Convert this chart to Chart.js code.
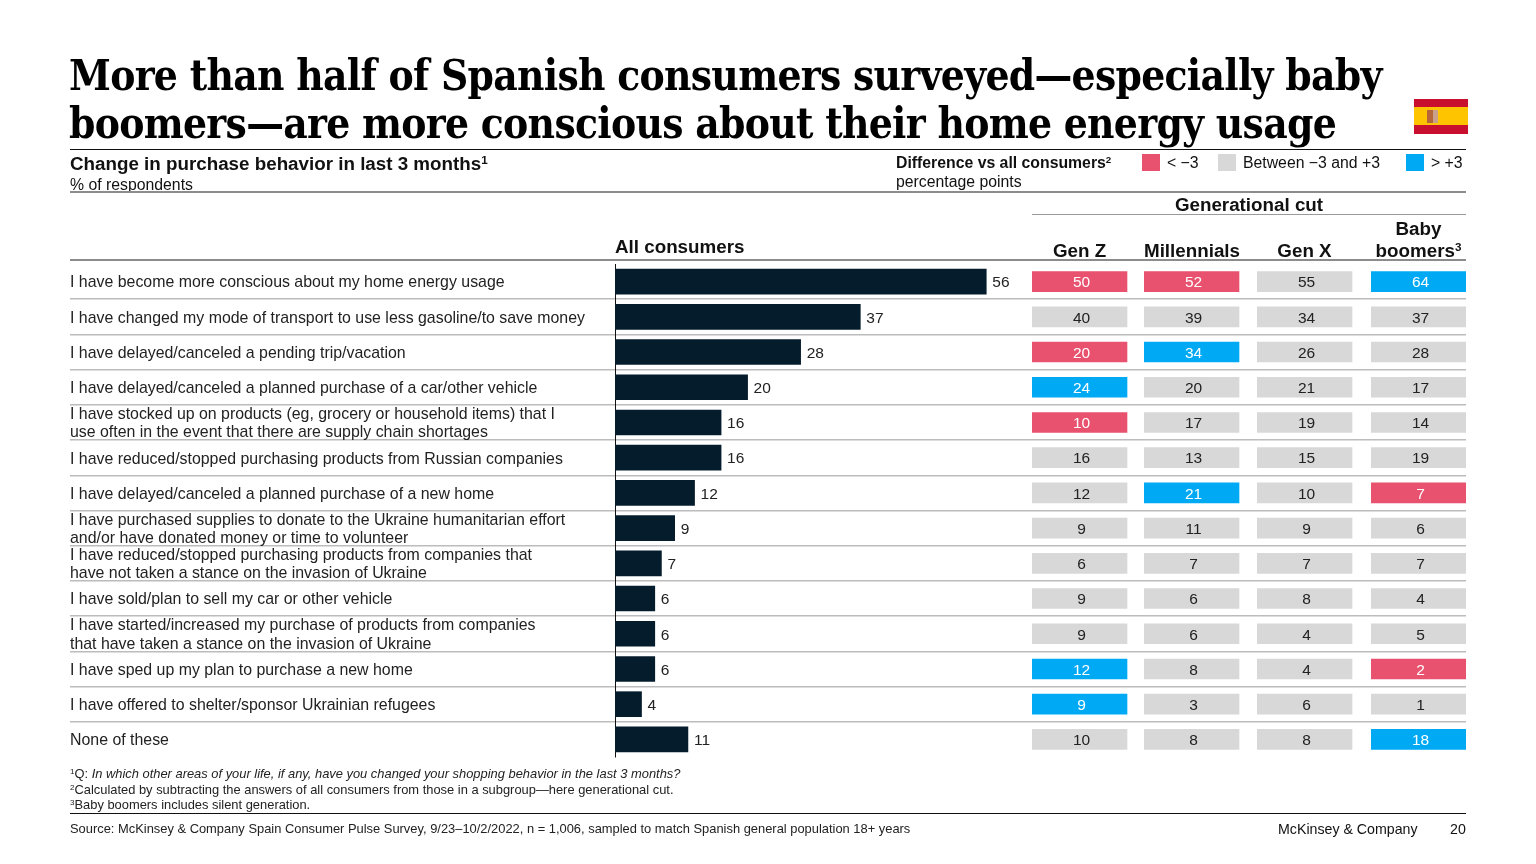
<!DOCTYPE html>
<html>
<head>
<meta charset="utf-8">
<script src="https://cdn.jsdelivr.net/npm/chart.js@4"></script>
<style>
  html,body { margin:0; padding:0; background:#fff; width:1536px; height:864px; overflow:hidden; }
  body { font-family:"Liberation Sans",Arial,sans-serif; color:#111; position:relative; }
  canvas { position:absolute; left:0; top:0; }
  .t { position:absolute; white-space:nowrap; }
  .rule { position:absolute; }
  .title { left:69px; font-family:"DejaVu Serif Condensed","DejaVu Serif",serif; font-stretch:condensed; font-weight:700; font-size:42px; letter-spacing:-.7px; line-height:48px; color:#000; }
  .b { font-weight:700; }
  sup { font-size:.62em; line-height:0; vertical-align:baseline; position:relative; top:-.5em; }
  .hd { font-weight:700; font-size:18.8px; line-height:22px; text-align:center; }
  .sub { font-size:15.8px; line-height:18px; }
  .note { left:70px; font-size:12.9px; line-height:15px; color:#222; }
  .sw { position:absolute; top:154px; width:18px; height:17px; }
</style>
</head>
<body>
<canvas id="chart" width="1466" height="864"></canvas>

<div class="t title" style="top:52px">More than half of Spanish consumers surveyed—especially baby</div>
<div class="t title" style="top:100px">boomers—are more conscious about their home energy usage</div>

<div style="position:absolute;left:1414px;top:99px;width:54px;height:35px;background:linear-gradient(#c8102e 0 23%,#ffc400 23% 75%,#c8102e 75%)">
  <div style="position:absolute;left:13px;top:11px;width:11px;height:13px;background:linear-gradient(90deg,#b5663a 50%,#c9a08a 50%)"></div>
</div>

<div class="rule" style="left:70px;top:149px;width:1396px;height:1px;background:#111"></div>
<div class="t b" style="left:70px;top:153px;font-size:18.8px;line-height:21px">Change in purchase behavior in last 3 months<sup>1</sup></div>
<div class="t sub" style="left:70px;top:176px">% of respondents</div>
<div class="t b sub" style="left:896px;top:154px">Difference vs all consumers<sup>2</sup></div>
<div class="t sub" style="left:896px;top:173px">percentage points</div>

<div class="sw" style="left:1142px;background:#e8526f"></div>
<div class="t sub" style="left:1167px;top:154px">&lt; −3</div>
<div class="sw" style="left:1218px;background:#d8d8d8"></div>
<div class="t sub" style="left:1243px;top:154px">Between −3 and +3</div>
<div class="sw" style="left:1406px;background:#00a9f4"></div>
<div class="t sub" style="left:1431px;top:154px">&gt; +3</div>

<div class="rule" style="left:70px;top:191px;width:1396px;height:2px;background:#8c8c8c"></div>
<div class="t hd" style="left:1032px;width:434px;top:194px">Generational cut</div>
<div class="rule" style="left:1032px;top:214px;width:434px;height:1px;background:#9a9a9a"></div>
<div class="t hd" style="left:615px;top:236px">All consumers</div>
<div id="genHeads"></div>
<div class="rule" style="left:70px;top:259px;width:1396px;height:2px;background:#8c8c8c"></div>

<div class="t note" style="top:766px"><sup>1</sup>Q: <i>In which other areas of your life, if any, have you changed your shopping behavior in the last 3 months?</i></div>
<div class="t note" style="top:782px"><sup>2</sup>Calculated by subtracting the answers of all consumers from those in a subgroup—here generational cut.</div>
<div class="t note" style="top:797px"><sup>3</sup>Baby boomers includes silent generation.</div>
<div class="rule" style="left:70px;top:813px;width:1396px;height:1px;background:#111"></div>
<div class="t note" style="top:821px">Source: McKinsey &amp; Company Spain Consumer Pulse Survey, 9/23–10/2/2022, n = 1,006, sampled to match Spanish general population 18+ years</div>
<div class="t" style="left:1278px;top:821px;font-size:14.2px;line-height:17px">McKinsey &amp; Company</div>
<div class="t" style="left:1450px;top:821px;font-size:14.2px;line-height:17px">20</div>

<script>
const categories = [
  'I have become more conscious about my home energy usage',
  'I have changed my mode of transport to use less gasoline/to save money',
  'I have delayed/canceled a pending trip/vacation',
  'I have delayed/canceled a planned purchase of a car/other vehicle',
  ['I have stocked up on products (eg, grocery or household items) that I', 'use often in the event that there are supply chain shortages'],
  'I have reduced/stopped purchasing products from Russian companies',
  'I have delayed/canceled a planned purchase of a new home',
  ['I have purchased supplies to donate to the Ukraine humanitarian effort', 'and/or have donated money or time to volunteer'],
  ['I have reduced/stopped purchasing products from companies that', 'have not taken a stance on the invasion of Ukraine'],
  'I have sold/plan to sell my car or other vehicle',
  ['I have started/increased my purchase of products from companies', 'that have taken a stance on the invasion of Ukraine'],
  'I have sped up my plan to purchase a new home',
  'I have offered to shelter/sponsor Ukrainian refugees',
  'None of these'
];
const allConsumers = [56, 37, 28, 20, 16, 16, 12, 9, 7, 6, 6, 6, 4, 11];
const genZ         = [50, 40, 20, 24, 10, 16, 12, 9, 6, 9, 9, 12, 9, 10];
const millennials  = [52, 39, 34, 20, 17, 13, 21, 11, 7, 6, 6, 8, 3, 8];
const genX         = [55, 34, 26, 21, 19, 15, 10, 9, 7, 8, 4, 4, 6, 8];
const babyBoomers  = [64, 37, 28, 17, 14, 19, 7, 6, 7, 4, 5, 2, 1, 18];

const C = { bar:'#051c2c', low:'#e8526f', mid:'#d8d8d8', high:'#00a9f4', grid:'#bcbcbc', text:'#222' };
const FONT = '"Liberation Sans",Arial,sans-serif';

// pixel width of each column slot, cell width is the same for all four
const CELL_W = 95;
const columns = [
  { name:'Gen Z',       head:'Gen Z',              values:genZ,        slot:112, left:1032 },
  { name:'Millennials', head:'Millennials',        values:millennials, slot:113, left:1144 },
  { name:'Gen X',       head:'Gen X',              values:genX,        slot:114, left:1257 },
  { name:'Baby boomers',head:'Baby<br>boomers<sup>3</sup>', values:babyBoomers, slot:95, left:1371 },
];

document.getElementById('genHeads').innerHTML = columns.map(c =>
  `<div class="t hd" style="left:${c.left}px;width:${CELL_W}px;bottom:${864-262}px">${c.head}</div>`).join('');

// colour comes from the gap to all consumers, same rule as the legend
function cellColor(v, i) {
  const d = v - allConsumers[i];
  return d < -3 ? C.low : d > 3 ? C.high : C.mid;
}

const scales = {
  y: {
    type:'category', offset:true,
    border:{ color:'#111', width:1 },
    grid:{
      offset:true, drawOnChartArea:true, drawTicks:true, tickLength:545, lineWidth:1.5,
      color: ctx => (ctx.index > 0 && ctx.tick) ? C.grid : 'transparent',
    },
    ticks:{ crossAlign:'far', padding:0, autoSkip:false, color:C.text, labelOffset:1.5,
      font:{ family:FONT, size:15.9, lineHeight:1.15 } },
    afterFit: s => { s.width = 545; },
  },
  xBar: { type:'linear', position:'bottom', stack:'cols', stackWeight:417, min:0, max:62.9, display:false },
};
columns.forEach((c, i) => {
  scales['x' + i] = { type:'linear', position:'bottom', stack:'cols', stackWeight:c.slot,
    min:0, max:c.slot / CELL_W, display:false };
});

const datasets = [
  { label:'All consumers', data:allConsumers, xAxisID:'xBar', backgroundColor:C.bar,
    barThickness:25, grouped:false, labelValues:allConsumers },
  ...columns.map((c, i) => ({
    label:c.name, data:c.values.map(() => 1), labelValues:c.values, isCell:true, xAxisID:'x' + i,
    backgroundColor:c.values.map(cellColor), barThickness:20, grouped:false,
  })),
];

const valueLabels = {
  id:'valueLabels',
  afterDatasetsDraw(chart) {
    const g = chart.ctx;
    g.save();
    g.font = `15.5px ${FONT}`;
    g.textBaseline = 'middle';
    chart.data.datasets.forEach((ds, di) => {
      chart.getDatasetMeta(di).data.forEach((el, i) => {
        if (ds.isCell) {
          g.textAlign = 'center';
          g.fillStyle = ds.backgroundColor[i] === C.mid ? C.text : '#fff';
          g.fillText(ds.labelValues[i], (el.x + el.base) / 2 + 2, el.y + 1.5);
        } else {
          g.textAlign = 'left';
          g.fillStyle = C.text;
          g.fillText(ds.labelValues[i], el.x + 6, el.y + 1.5);
        }
      });
    });
    g.restore();
  }
};

new Chart(document.getElementById('chart'), {
  type:'bar',
  data:{ labels:categories, datasets },
  options:{
    indexAxis:'y', responsive:false, animation:false,
    layout:{ padding:{ left:70, top:264, right:0, bottom:107 } },
    plugins:{ legend:{ display:false }, tooltip:{ enabled:false } },
    scales,
  },
  plugins:[valueLabels],
});
</script>
</body>
</html>
